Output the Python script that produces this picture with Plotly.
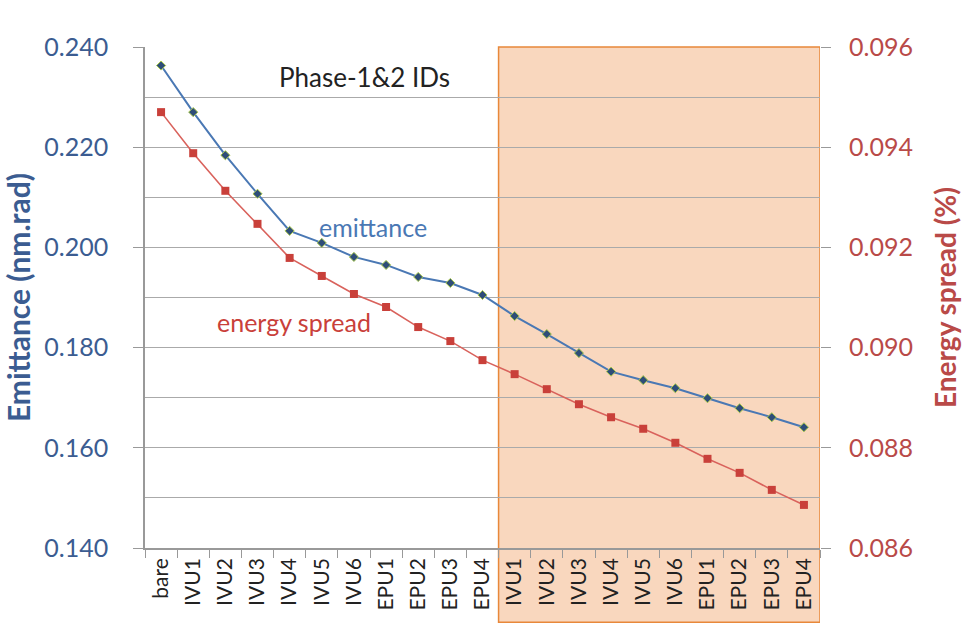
import plotly.graph_objects as go

categories = ["bare", "IVU1", "IVU2", "IVU3", "IVU4", "IVU5", "IVU6", "EPU1", "EPU2", "EPU3", "EPU4",
              "IVU1", "IVU2", "IVU3", "IVU4", "IVU5", "IVU6", "EPU1", "EPU2", "EPU3", "EPU4"]
emittance = [0.2363, 0.2270, 0.2184, 0.2107, 0.2033, 0.2009, 0.1981, 0.1965, 0.1941, 0.1929, 0.1905,
             0.1863, 0.1827, 0.1789, 0.1752, 0.1735, 0.1719, 0.1699, 0.1679, 0.1661, 0.1641]
energy_spread = [0.09470, 0.09388, 0.09313, 0.09247, 0.09179, 0.09143, 0.09107, 0.09081, 0.09041, 0.09013, 0.08975,
                 0.08947, 0.08917, 0.08887, 0.08861, 0.08838, 0.08810, 0.08778, 0.08750, 0.08716, 0.08686]
left_ticks = [0.140, 0.160, 0.180, 0.200, 0.220, 0.240]
right_ticks = [0.086, 0.088, 0.090, 0.092, 0.094, 0.096]
phase2_start = 11  # index of first phase-2 ID

xpos = list(range(len(categories)))
FONT = "Lato"
BLUE_T = "#3b5c91"
RED_T = "#b94a48"

fig = go.Figure()

fig.add_trace(go.Scatter(
    x=xpos, y=emittance, mode="lines+markers", name="emittance",
    line=dict(color="#4a78b4", width=2),
    marker=dict(symbol="diamond", size=7, color="#2e4d78",
                line=dict(color="#a8c84a", width=1)),
    yaxis="y"))

fig.add_trace(go.Scatter(
    x=xpos, y=energy_spread, mode="lines+markers", name="energy spread",
    line=dict(color="#d9625c", width=1.6),
    marker=dict(symbol="square", size=8, color="#c9403a"),
    yaxis="y2"))

fig.add_shape(type="rect", xref="x", yref="paper",
              x0=phase2_start - 0.5, x1=len(categories) - 0.5, y0=-0.148, y1=1.0,
              fillcolor="rgba(240,160,100,0.42)", line=dict(color="#e8883a", width=1.5),
              layer="below")

fig.add_annotation(x=6.32, y=0.2340, xref="x", yref="y", text="Phase-1&2 IDs",
                   showarrow=False, font=dict(family=FONT, size=26, color="#222222"))
fig.add_annotation(x=6.6, y=0.2041, xref="x", yref="y", text="emittance",
                   showarrow=False, font=dict(family=FONT, size=25, color="#4a78b4"))
fig.add_annotation(x=4.12, y=0.1851, xref="x", yref="y", text="energy spread",
                   showarrow=False, font=dict(family=FONT, size=25, color="#c9403a"))

fig.update_layout(
    width=969, height=630,
    margin=dict(l=145, r=147, t=47, b=82),
    paper_bgcolor="white", plot_bgcolor="white",
    showlegend=False,
    font=dict(family=FONT),
    xaxis=dict(
        range=[-0.5, len(categories) - 0.5],
        tickmode="array", tickvals=xpos, ticktext=categories,
        tickangle=-90, ticks="", showgrid=False,
        tickfont=dict(family=FONT, size=21, color="#222222"),
        showline=True, linecolor="#999999", linewidth=1.5,
        minor=dict(tickvals=[i - 0.5 for i in range(len(categories) + 1)],
                   ticks="outside", ticklen=8, tickcolor="#999999", showgrid=False),
        zeroline=False),
    yaxis=dict(
        range=[0.140, 0.240], tickmode="array", tickvals=left_ticks,
        ticktext=[f"{v:.3f}" for v in left_ticks],
        tickfont=dict(family=FONT, size=25, color=BLUE_T),
        ticks="outside", ticklen=10, tickcolor="#999999",
        ticklabelstandoff=20,
        showgrid=True, gridcolor="#aaaaaa", gridwidth=1,
        minor=dict(dtick=0.01, tick0=0.14, showgrid=True, gridcolor="#aaaaaa", gridwidth=1, ticks=""),
        showline=True, linecolor="#999999", linewidth=1.5,
        zeroline=False,
        title=dict(text="<b>Emittance (nm.rad)</b>", standoff=10,
                   font=dict(family=FONT, size=30, color=BLUE_T))),
    yaxis2=dict(
        range=[0.086, 0.096], overlaying="y", side="right",
        tickmode="array", tickvals=right_ticks,
        ticktext=[f"{v:.3f}" for v in right_ticks],
        tickfont=dict(family=FONT, size=25, color=RED_T),
        ticks="outside", ticklen=10, tickcolor="#999999",
        ticklabelstandoff=13,
        showgrid=False, showline=False, zeroline=False,
        title=dict(text="<b>Energy spread (%)</b>", standoff=24,
                   font=dict(family=FONT, size=28, color=RED_T))),
)

fig.write_html("out.html")
